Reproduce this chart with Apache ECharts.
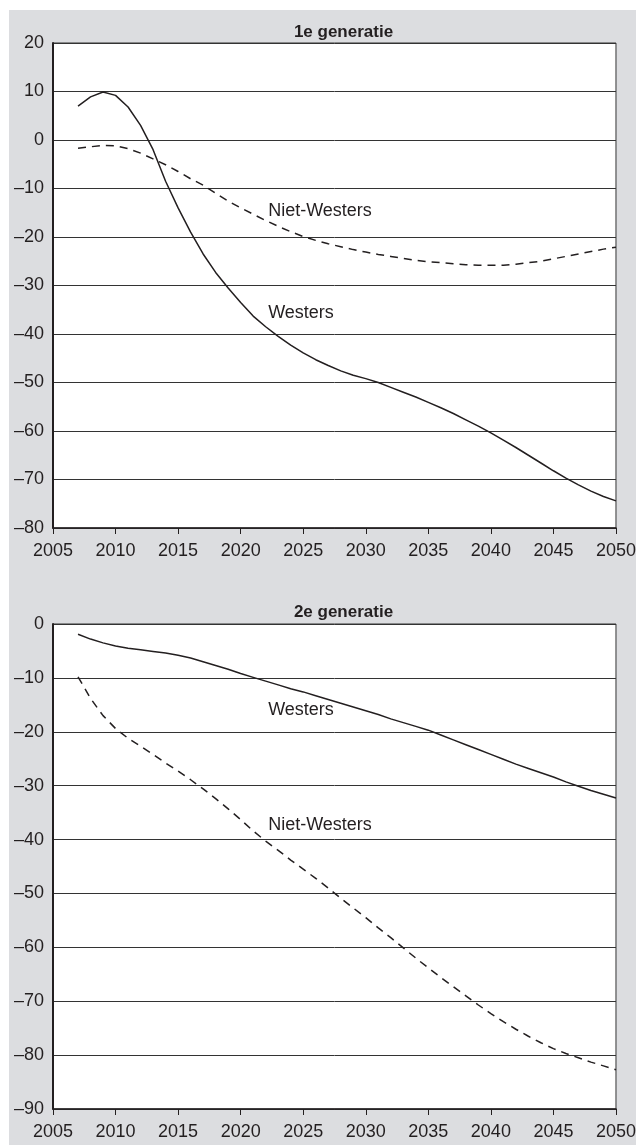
<!DOCTYPE html>
<html>
<head>
<meta charset="utf-8">
<script src="https://cdn.jsdelivr.net/npm/echarts@6/dist/echarts.min.js"></script>
<style>
  html, body { margin: 0; padding: 0; background: #ffffff; }
  #chart { width: 639px; height: 1145px; }
</style>
</head>
<body>
<div id="chart"></div>
<script>
// ---- Data ----
const years = [2007,2008,2009,2010,2011,2012,2013,2014,2015,2016,2017,2018,2019,2020,2021,2022,2023,2024,2025,2026,2027,2028,2029,2030,2031,2032,2033,2034,2035,2036,2037,2038,2039,2040,2041,2042,2043,2044,2045,2046,2047,2048,2049,2050];

// Panel 1: 1e generatie
const gen1Westers = [7.0,8.9,9.9,9.2,6.8,3.0,-2.0,-8.5,-14.0,-19.0,-23.5,-27.3,-30.5,-33.5,-36.3,-38.5,-40.5,-42.3,-43.9,-45.3,-46.5,-47.6,-48.5,-49.2,-50.0,-51.0,-52.0,-53.0,-54.1,-55.2,-56.4,-57.7,-59.0,-60.4,-61.9,-63.4,-65.0,-66.6,-68.2,-69.7,-71.1,-72.4,-73.5,-74.4];
const gen1NietWesters = [-1.7,-1.4,-1.1,-1.2,-1.8,-2.7,-3.9,-5.1,-6.5,-8.0,-9.3,-11.0,-12.6,-14.0,-15.3,-16.6,-17.8,-18.9,-19.9,-20.7,-21.4,-22.0,-22.6,-23.1,-23.6,-24.0,-24.4,-24.8,-25.1,-25.3,-25.5,-25.7,-25.8,-25.8,-25.8,-25.6,-25.3,-25.0,-24.5,-24.0,-23.5,-23.0,-22.5,-22.1];

// Panel 2: 2e generatie
const gen2Westers = [-1.9,-2.8,-3.5,-4.1,-4.5,-4.8,-5.1,-5.4,-5.8,-6.3,-7.0,-7.7,-8.4,-9.2,-9.9,-10.6,-11.3,-12.0,-12.6,-13.3,-14.0,-14.7,-15.4,-16.1,-16.8,-17.6,-18.3,-19.0,-19.7,-20.6,-21.5,-22.4,-23.3,-24.2,-25.1,-26.0,-26.8,-27.6,-28.4,-29.3,-30.1,-30.9,-31.6,-32.3];
const gen2NietWesters = [-9.8,-13.8,-17.0,-19.4,-21.2,-22.7,-24.2,-25.8,-27.3,-28.9,-30.6,-32.4,-34.3,-36.3,-38.4,-40.3,-42.0,-43.8,-45.5,-47.2,-49.0,-50.9,-52.7,-54.5,-56.4,-58.2,-60.1,-62.0,-63.8,-65.6,-67.3,-69.0,-70.7,-72.3,-73.8,-75.2,-76.5,-77.7,-78.8,-79.7,-80.5,-81.3,-82.0,-82.7];

const panelTitles = ['1e generatie', '2e generatie'];
const seriesNames = ['Westers', 'Niet-Westers'];
const xTicks = [2005, 2050, 5];          // min, max, interval
const yTicks1 = [-80, 20, 10];
const yTicks2 = [-90, 0, 10];

// annotation anchors (data coordinates: [year, value])
const labelAnchors1 = { 'Niet-Westers': [2022.2, -14.6], 'Westers': [2022.2, -35.7] };
const labelAnchors2 = { 'Westers': [2022.2, -16.0], 'Niet-Westers': [2022.2, -37.3] };

// ---- Chart ----
const FONT = 'Liberation Sans, Arial, Helvetica, sans-serif';
const INK = '#231f20';
const chart = echarts.init(document.getElementById('chart'), null, { renderer: 'canvas' });

function fmtY(v) { return v < 0 ? '\u2013' + (-v) : String(v); }

function pairs(ys) { return years.map((y, i) => [y, ys[i]]); }

function xAxis(gi) {
  return {
    gridIndex: gi, type: 'value', min: xTicks[0], max: xTicks[1], interval: xTicks[2],
    axisLine: { show: true, onZero: false, lineStyle: { color: INK, width: 1.5 } },
    axisTick: { show: true, length: 6, inside: false, lineStyle: { color: INK, width: 1 } },
    axisLabel: { color: INK, fontSize: 18, fontFamily: FONT, margin: 14, formatter: v => String(v) },
    splitLine: { show: false }
  };
}
function yAxis(gi, t) {
  return {
    gridIndex: gi, type: 'value', min: t[0], max: t[1], interval: t[2],
    axisLine: { show: true, onZero: false, lineStyle: { color: INK, width: 2 } },
    axisTick: { show: false },
    axisLabel: { color: INK, fontSize: 18, fontFamily: FONT, margin: 9, formatter: fmtY },
    splitLine: { show: true, lineStyle: { color: '#333333', width: 1 } }
  };
}
function annot(anchors) {
  return {
    symbol: 'circle', symbolSize: 0, silent: true,
    label: { show: true, position: 'right', distance: 0, color: INK, fontSize: 18, fontFamily: FONT, formatter: p => p.name },
    data: Object.keys(anchors).map(k => ({ name: k, coord: anchors[k] }))
  };
}
function line(name, gi, ys, dashed, anchors) {
  const s = {
    name: name, type: 'line', xAxisIndex: gi, yAxisIndex: gi, data: pairs(ys),
    showSymbol: false, smooth: false, animation: false,
    lineStyle: { color: INK, width: 1.5, type: dashed ? [8, 6] : 'solid' }
  };
  if (anchors) s.markPoint = annot(anchors);
  return s;
}

const option = {
  backgroundColor: '#ffffff',
  animation: false,
  graphic: [{
    type: 'rect', z: -10, silent: true,
    shape: { x: 9, y: 10, width: 627, height: 1135 },
    style: { fill: '#dcdde0' }
  }],
  title: [
    { text: panelTitles[0], left: 338.5, textAlign: 'center', top: 19,
      textStyle: { fontSize: 17, fontWeight: 'bold', color: INK, fontFamily: FONT } },
    { text: panelTitles[1], left: 338.5, textAlign: 'center', top: 599,
      textStyle: { fontSize: 17, fontWeight: 'bold', color: INK, fontFamily: FONT } }
  ],
  grid: [
    { left: 53, top: 43, right: 15, height: 485, show: true, backgroundColor: '#ffffff', borderColor: '#333333', borderWidth: 1 },
    { left: 53, top: 624, right: 15, height: 485, show: true, backgroundColor: '#ffffff', borderColor: '#333333', borderWidth: 1 }
  ],
  xAxis: [xAxis(0), xAxis(1)],
  yAxis: [yAxis(0, yTicks1), yAxis(1, yTicks2)],
  series: [
    line(seriesNames[0], 0, gen1Westers, false, { 'Westers': labelAnchors1['Westers'] }),
    line(seriesNames[1], 0, gen1NietWesters, true, { 'Niet-Westers': labelAnchors1['Niet-Westers'] }),
    line(seriesNames[0], 1, gen2Westers, false, { 'Westers': labelAnchors2['Westers'] }),
    line(seriesNames[1], 1, gen2NietWesters, true, { 'Niet-Westers': labelAnchors2['Niet-Westers'] })
  ]
};
chart.setOption(option);
</script>
</body>
</html>
